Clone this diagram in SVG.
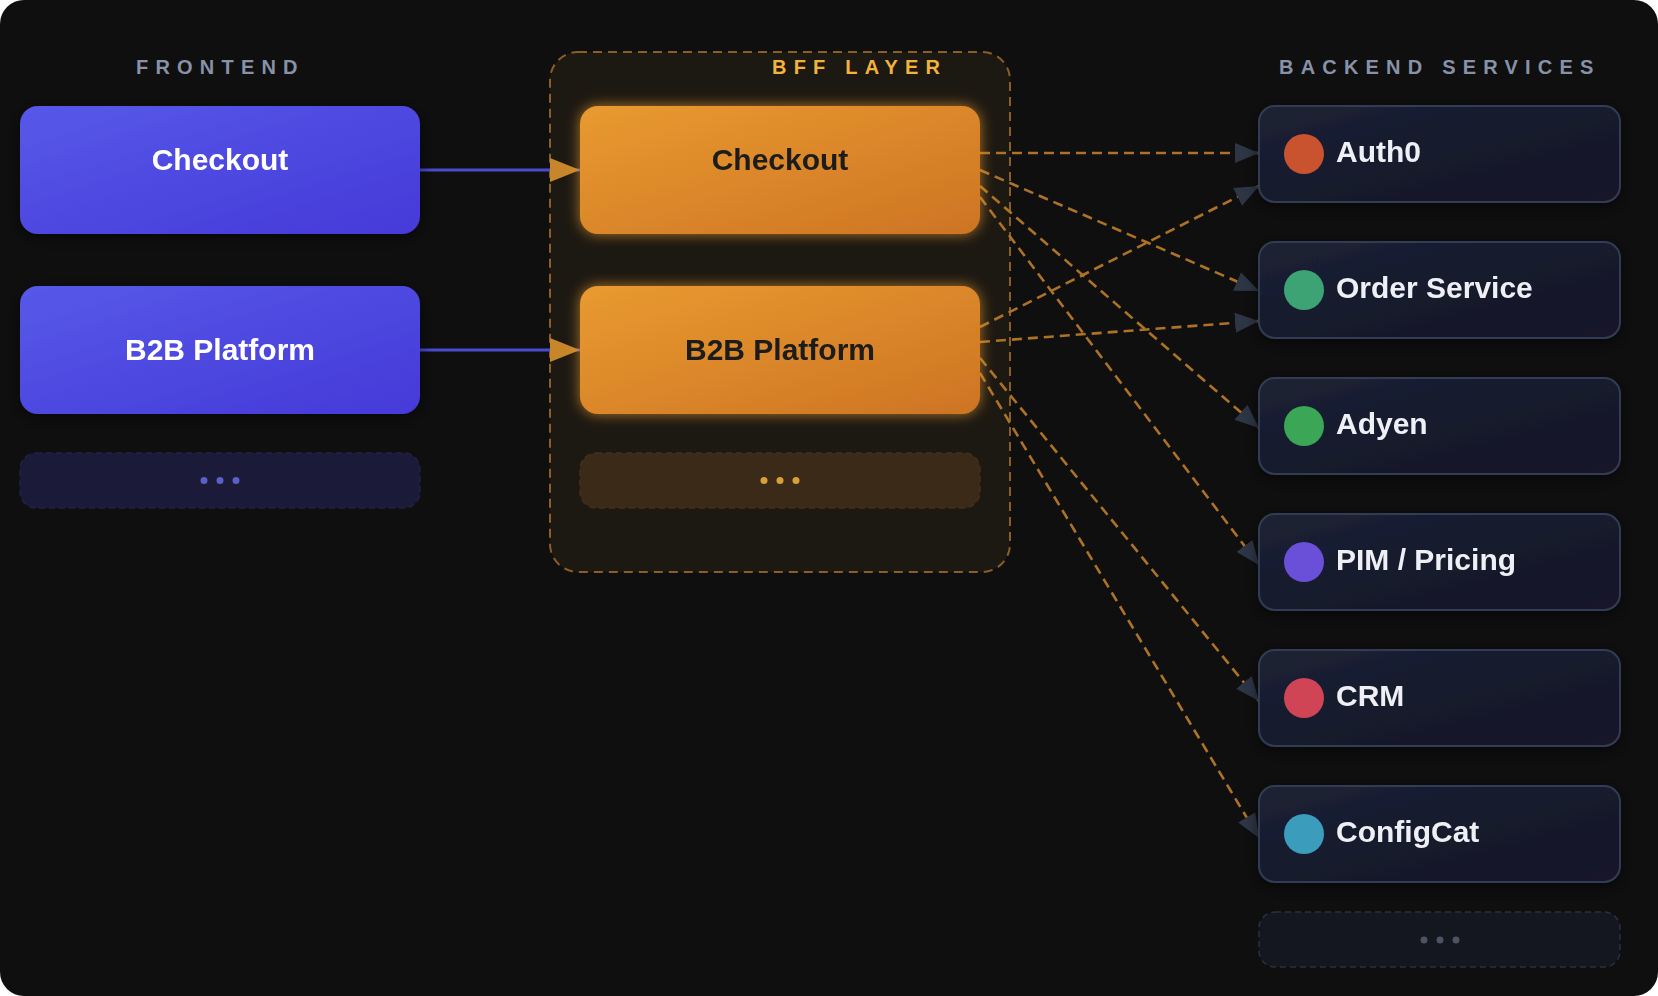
<svg xmlns="http://www.w3.org/2000/svg" width="1658" height="996" viewBox="0 0 1658 996">
  <defs>
    <linearGradient id="gFront" x1="0" y1="0" x2="1" y2="1">
      <stop offset="0" stop-color="#5659e8"/>
      <stop offset="1" stop-color="#4539d9"/>
    </linearGradient>
    <linearGradient id="gBff" x1="0" y1="0" x2="1" y2="1">
      <stop offset="0" stop-color="#e99a30"/>
      <stop offset="1" stop-color="#cd7424"/>
    </linearGradient>
    <linearGradient id="gBack" x1="0" y1="0" x2="1" y2="1">
      <stop offset="0" stop-color="#1c2234"/>
      <stop offset="0.55" stop-color="#151a2c"/>
      <stop offset="1" stop-color="#1a1628"/>
    </linearGradient>
    <filter id="shadow" x="-20%" y="-30%" width="140%" height="160%">
      <feDropShadow dx="0" dy="4" stdDeviation="8" flood-color="#000" flood-opacity="0.55"/>
    </filter>
    <filter id="glow" x="-20%" y="-40%" width="140%" height="180%">
      <feGaussianBlur in="SourceAlpha" stdDeviation="7" result="b"/>
      <feFlood flood-color="#f0a030" flood-opacity="0.7"/>
      <feComposite operator="in" in2="b" result="g"/>
      <feMerge><feMergeNode in="g"/><feMergeNode in="SourceGraphic"/></feMerge>
    </filter>
    <marker id="arrowFront" markerUnits="userSpaceOnUse" markerWidth="30" markerHeight="24" refX="30" refY="12" orient="auto">
      <path d="M0,0 L30,12 L0,24 z" fill="#c8862a"/>
    </marker>
    <marker id="arrowBack" markerUnits="userSpaceOnUse" markerWidth="24" markerHeight="20" refX="24" refY="10" orient="auto">
      <path d="M0,0 L24,10 L0,20 z" fill="#2e3646"/>
    </marker>
    <style>
      .lbl { font-family: "Liberation Sans", Arial, sans-serif; font-weight: bold; font-size: 20px; letter-spacing: 7.2px; }
      .gray { fill: #8792a8; }
      .gold { fill: #f2b33d; }
      .front rect { fill: url(#gFront); }
      .bff rect { fill: url(#gBff); }
      .t { font-family: "Liberation Sans", Arial, sans-serif; font-weight: bold; font-size: 30px; text-anchor: middle; }
      .tw { fill: #ffffff; }
      .tk { fill: #1b1b1b; }
      .back rect { fill: url(#gBack); stroke: #323c55; stroke-width: 2; }
      .bt { font-family: "Liberation Sans", Arial, sans-serif; font-weight: bold; font-size: 30px; fill: #eef0f5; }
      .dash { fill: none; stroke: #ad7226; stroke-width: 2.6; stroke-dasharray: 10 6; marker-end: url(#arrowBack); }
      .solid { fill: none; stroke: #4b4bd2; stroke-width: 3; marker-end: url(#arrowFront); }
    </style>
  </defs>

  <rect x="0" y="0" width="1658" height="996" rx="24" fill="#0f0f0f"/>

  <!-- column labels -->
  <text class="lbl gray" x="136" y="74">FRONTEND</text>
  <text class="lbl gray" x="1279" y="74">BACKEND SERVICES</text>

  <!-- BFF container -->
  <g id="bff-layer">
    <rect x="550" y="52" width="460" height="520" rx="28" fill="#1c1812" stroke="#8a5e24" stroke-width="2" stroke-dasharray="9 6"/>
    <text class="lbl gold" x="772" y="74">BFF LAYER</text>
  </g>

  <!-- connectors -->
  <g id="connectors">
    <line class="solid" x1="420" y1="170" x2="580" y2="170"/>
    <line class="solid" x1="420" y1="350" x2="580" y2="350"/>
    <line class="dash" x1="980" y1="153" x2="1259" y2="153"/>
    <line class="dash" x1="980" y1="170" x2="1259" y2="291"/>
    <line class="dash" x1="980" y1="186" x2="1259" y2="428"/>
    <line class="dash" x1="980" y1="197" x2="1259" y2="565"/>
    <line class="dash" x1="980" y1="327" x2="1259" y2="186"/>
    <line class="dash" x1="980" y1="342" x2="1259" y2="321"/>
    <line class="dash" x1="980" y1="358" x2="1259" y2="701"/>
    <line class="dash" x1="980" y1="373" x2="1259" y2="838"/>
  </g>

  <!-- Frontend nodes -->
  <g id="fe-checkout" class="front" filter="url(#shadow)">
    <rect x="20" y="106" width="400" height="128" rx="18"/>
    <text class="t tw" x="220" y="170">Checkout</text>
  </g>
  <g id="fe-b2b" class="front" filter="url(#shadow)">
    <rect x="20" y="286" width="400" height="128" rx="18"/>
    <text class="t tw" x="220" y="360">B2B Platform</text>
  </g>
  <g id="fe-more">
    <rect x="20" y="453" width="400" height="55" rx="16" fill="#1b1a38" stroke="#22214a" stroke-width="1.5" stroke-dasharray="6 4"/>
    <circle cx="204" cy="480.5" r="3.5" fill="#5b5fc6"/>
    <circle cx="220" cy="480.5" r="3.5" fill="#5b5fc6"/>
    <circle cx="236" cy="480.5" r="3.5" fill="#5b5fc6"/>
  </g>

  <!-- BFF nodes -->
  <g id="bff-checkout" class="bff" filter="url(#glow)">
    <rect x="580" y="106" width="400" height="128" rx="18"/>
    <text class="t tk" x="780" y="170">Checkout</text>
  </g>
  <g id="bff-b2b" class="bff" filter="url(#glow)">
    <rect x="580" y="286" width="400" height="128" rx="18"/>
    <text class="t tk" x="780" y="360">B2B Platform</text>
  </g>
  <g id="bff-more">
    <rect x="580" y="453" width="400" height="55" rx="16" fill="#3b2a17" stroke="#44301a" stroke-width="1.5" stroke-dasharray="6 4"/>
    <circle cx="764" cy="480.5" r="3.5" fill="#d8a03a"/>
    <circle cx="780" cy="480.5" r="3.5" fill="#d8a03a"/>
    <circle cx="796" cy="480.5" r="3.5" fill="#d8a03a"/>
  </g>

  <!-- Backend nodes -->
  <g id="be-auth0" class="back" filter="url(#shadow)">
    <rect x="1259" y="106" width="361" height="96" rx="16"/>
    <circle cx="1304" cy="154" r="20" fill="#c9522e"/>
    <text class="bt" x="1336" y="162">Auth0</text>
  </g>
  <g id="be-order" class="back" filter="url(#shadow)">
    <rect x="1259" y="242" width="361" height="96" rx="16"/>
    <circle cx="1304" cy="290" r="20" fill="#3da374"/>
    <text class="bt" x="1336" y="298">Order Service</text>
  </g>
  <g id="be-adyen" class="back" filter="url(#shadow)">
    <rect x="1259" y="378" width="361" height="96" rx="16"/>
    <circle cx="1304" cy="426" r="20" fill="#3aa655"/>
    <text class="bt" x="1336" y="434">Adyen</text>
  </g>
  <g id="be-pim" class="back" filter="url(#shadow)">
    <rect x="1259" y="514" width="361" height="96" rx="16"/>
    <circle cx="1304" cy="562" r="20" fill="#6b4fd8"/>
    <text class="bt" x="1336" y="570">PIM / Pricing</text>
  </g>
  <g id="be-crm" class="back" filter="url(#shadow)">
    <rect x="1259" y="650" width="361" height="96" rx="16"/>
    <circle cx="1304" cy="698" r="20" fill="#d04454"/>
    <text class="bt" x="1336" y="706">CRM</text>
  </g>
  <g id="be-configcat" class="back" filter="url(#shadow)">
    <rect x="1259" y="786" width="361" height="96" rx="16"/>
    <circle cx="1304" cy="834" r="20" fill="#3a9cbc"/>
    <text class="bt" x="1336" y="842">ConfigCat</text>
  </g>
  <g id="be-more">
    <rect x="1259" y="912" width="361" height="55" rx="16" fill="#141720" stroke="#2b313f" stroke-width="1.5" stroke-dasharray="6 4"/>
    <circle cx="1424" cy="940" r="3.5" fill="#4d5363"/>
    <circle cx="1440" cy="940" r="3.5" fill="#4d5363"/>
    <circle cx="1456" cy="940" r="3.5" fill="#4d5363"/>
  </g>
</svg>
